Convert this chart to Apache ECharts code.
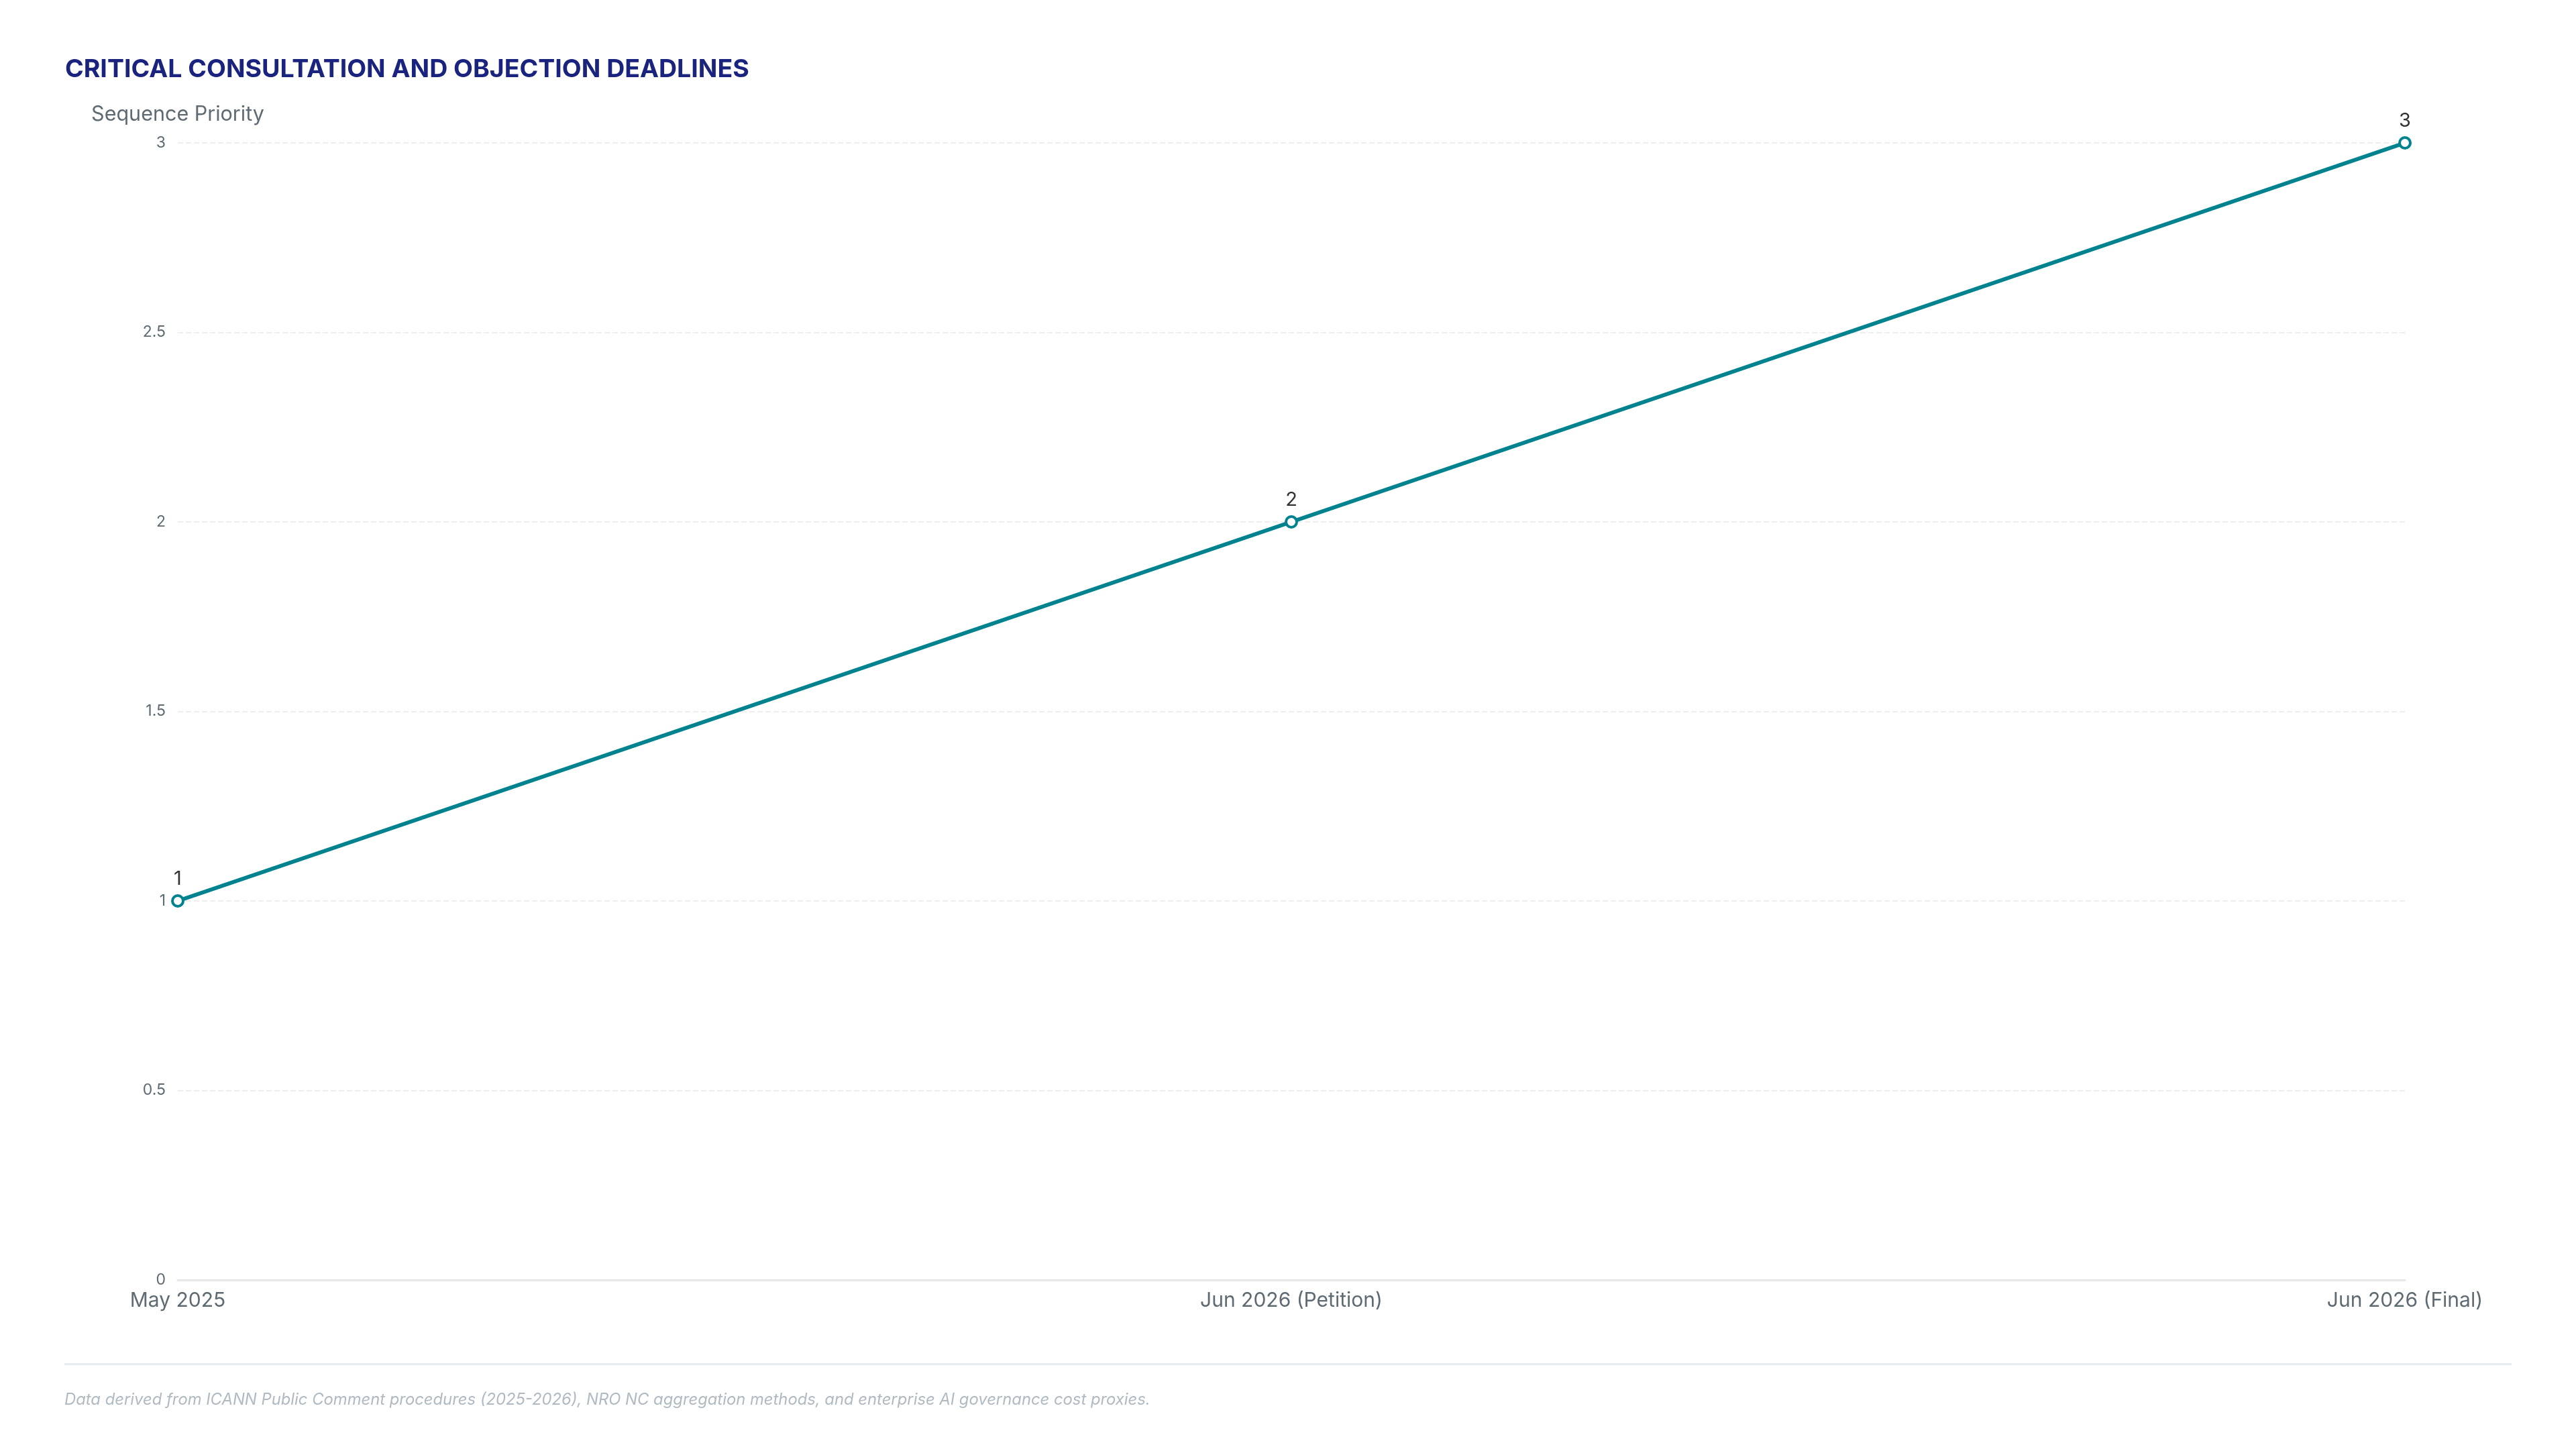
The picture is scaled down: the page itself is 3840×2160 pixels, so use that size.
<!DOCTYPE html>
<html>
<head>
<meta charset="utf-8">
<script src="https://cdn.jsdelivr.net/npm/echarts@6/dist/echarts.min.js"></script>
<style>
html,body{margin:0;padding:0;background:#fff;}
#chart{width:3840px;height:2160px;}
</style>
</head>
<body>
<div id="chart"></div>
<script>
const titleText = 'CRITICAL CONSULTATION AND OBJECTION DEADLINES';
const yAxisName = 'Sequence Priority';
const categories = ['May 2025', 'Jun 2026 (Petition)', 'Jun 2026 (Final)'];
const values = [1, 2, 3];
const footerText = 'Data derived from ICANN Public Comment procedures (2025-2026), NRO NC aggregation methods, and enterprise AI governance cost proxies.';

const chart = echarts.init(document.getElementById('chart'));
chart.setOption({
  backgroundColor: '#ffffff',
  textStyle: { fontFamily: 'Inter' },
  title: {
    text: titleText,
    left: 92,
    top: 80,
    textStyle: { color: '#1a237e', fontSize: 37.5, fontWeight: 'bold', fontFamily: 'Inter' }
  },
  grid: { left: 265, right: 255, top: 213, bottom: 252 },
  xAxis: {
    type: 'category',
    data: categories,
    boundaryGap: false,
    axisLine: { show: true, lineStyle: { color: '#e6e8eb', width: 3 } },
    axisTick: { show: false },
    axisLabel: { color: '#5f6b73', fontSize: 30, margin: 16, fontFamily: 'Inter' },
    splitLine: { show: false }
  },
  yAxis: {
    type: 'value',
    min: 0,
    max: 3,
    interval: 0.5,
    name: yAxisName,
    nameLocation: 'end',
    nameGap: 27,
    nameTextStyle: { color: '#5f6b73', fontSize: 30.5, fontFamily: 'Inter' },
    axisLine: { show: false },
    axisTick: { show: false },
    axisLabel: { color: '#5f6b73', fontSize: 23, margin: 18, fontFamily: 'Inter' },
    splitLine: { show: true, lineStyle: { color: '#eeeeee', type: 'dashed', width: 2 } }
  },
  series: [{
    type: 'line',
    data: values,
    symbol: 'circle',
    symbolSize: 16,
    itemStyle: { color: '#ffffff', borderColor: '#00838f', borderWidth: 4 },
    lineStyle: { color: '#00838f', width: 6 },
    label: { show: true, position: 'top', color: '#333333', fontSize: 29, distance: 8, fontFamily: 'Inter' },
    emphasis: { disabled: true }
  }],
  graphic: [
    { type: 'rect', shape: { x: 96, y: 2032, width: 3648, height: 3 }, style: { fill: '#e8ecef' } },
    { type: 'text', left: 96, top: 2075, style: { text: footerText, fill: '#b0bac2', fontSize: 23.8, fontStyle: 'italic', fontFamily: 'Inter' } }
  ]
});
</script>
</body>
</html>
